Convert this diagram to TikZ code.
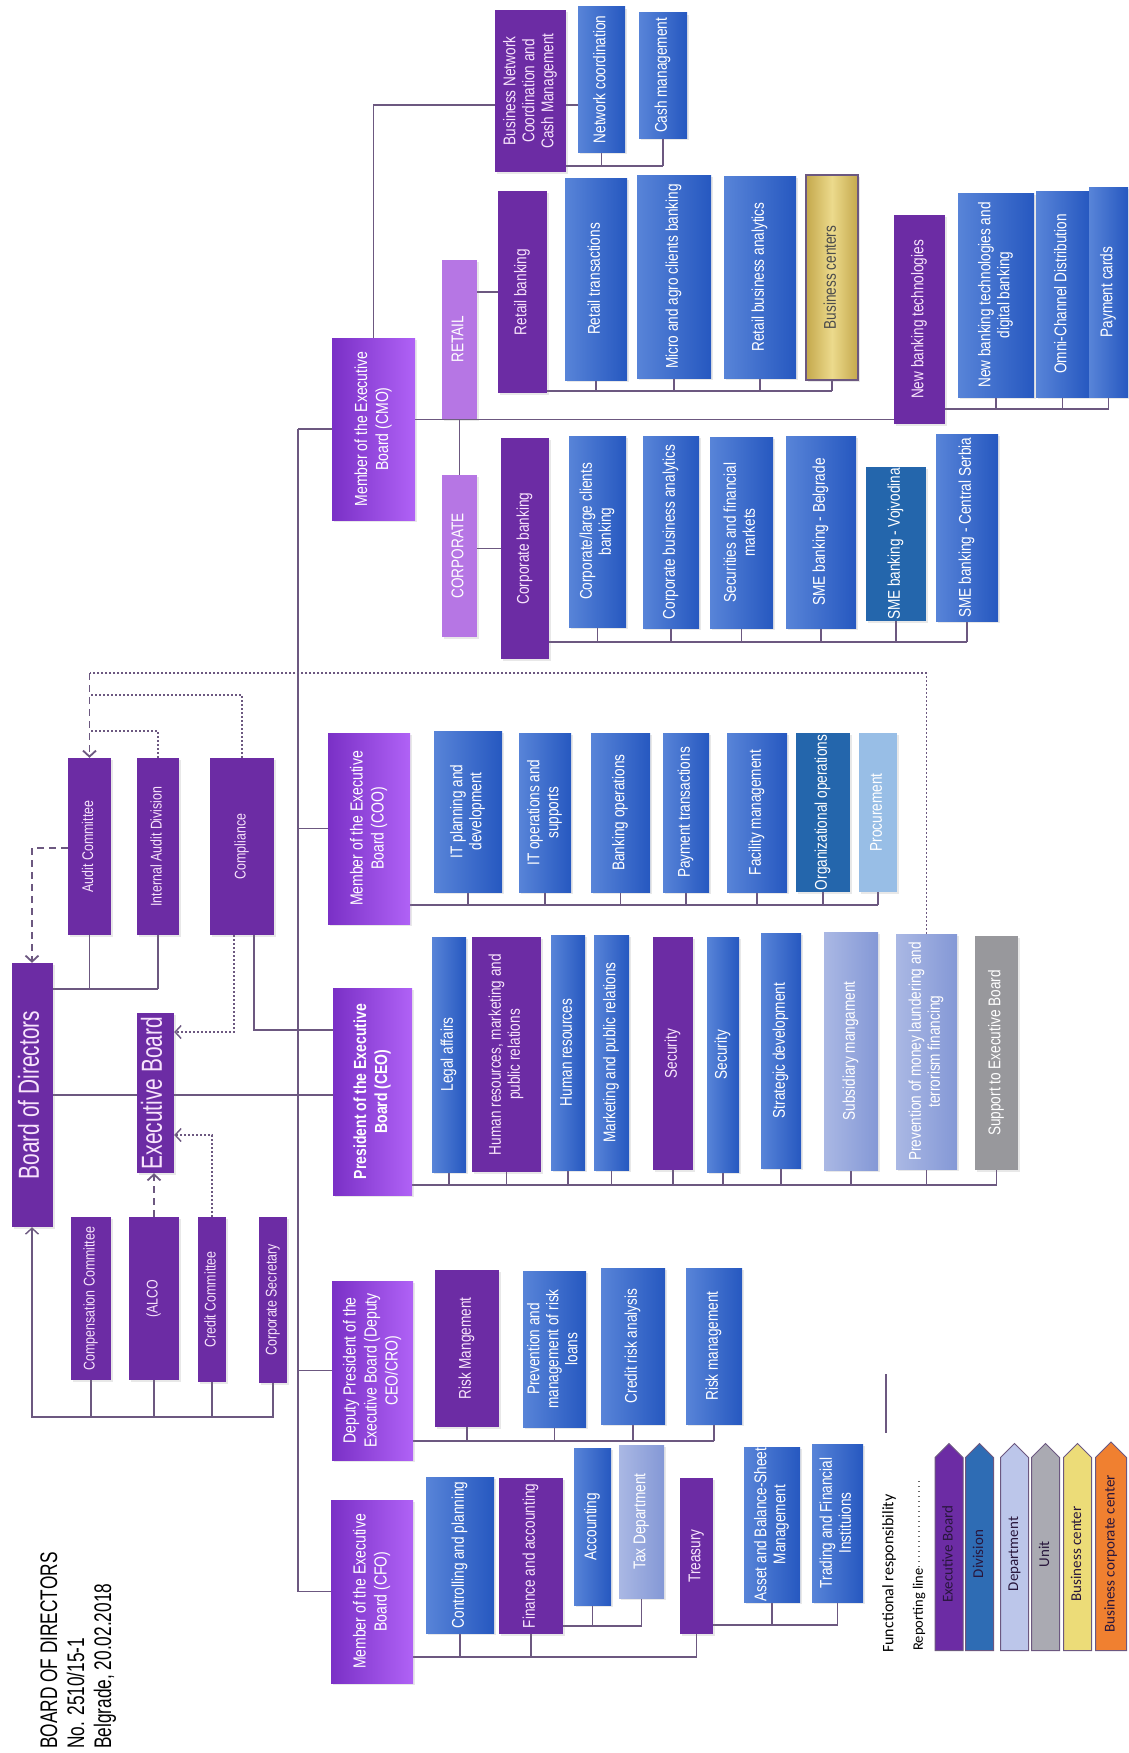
\documentclass[tikz,border=0pt]{standalone}
\usepackage{fontspec}
\setmainfont{Liberation Sans}[FakeStretch=0.8]
\newfontfamily\titlefont{Liberation Sans}[FakeStretch=0.72]
\newfontfamily\legendfont{Carlito}
\usetikzlibrary{arrows.meta,shapes.symbols,backgrounds,shadows}

\definecolor{boardpurple}{RGB}{108,44,164}
\definecolor{boardtext}{RGB}{248,228,252}
\definecolor{memberdark}{RGB}{122,48,198}
\definecolor{memberlight}{RGB}{176,98,246}
\definecolor{segpurple}{RGB}{182,118,228}
\definecolor{divlight}{RGB}{88,132,216}
\definecolor{divdark}{RGB}{38,88,192}
\definecolor{orgblue}{RGB}{36,102,172}
\definecolor{procblue}{RGB}{152,190,230}
\definecolor{deptlight}{RGB}{170,184,228}
\definecolor{deptdark}{RGB}{132,152,214}
\definecolor{unitgray}{RGB}{152,152,156}
\definecolor{goldlight}{RGB}{236,218,140}
\definecolor{golddark}{RGB}{196,168,76}
\definecolor{linecol}{RGB}{108,88,128}
\definecolor{legdiv}{RGB}{46,108,180}
\definecolor{legdept}{RGB}{188,198,234}
\definecolor{legunit}{RGB}{170,170,178}
\definecolor{legbc}{RGB}{236,220,120}
\definecolor{legbcc}{RGB}{240,128,48}
\definecolor{legtext}{RGB}{40,22,60}

\newcommand{\vtext}[1]{\rotatebox{90}{\begin{tabular}{@{}c@{}}#1\end{tabular}}}

\begin{document}
\begin{tikzpicture}[x=1pt, y=-1pt, >={Straight Barb[length=6pt,width=13pt]},
    box/.style={inner sep=0pt, font=\fontsize{17}{19}\selectfont, drop shadow={shadow xshift=2pt, shadow yshift=-2pt, opacity=0.18}},
    titlebox/.style={box, fill=boardpurple, text=boardtext, font=\titlefont\fontsize{29}{32}\selectfont},
    boardbox/.style={box, fill=boardpurple, text=boardtext},
    comm/.style={font=\fontsize{15.5}{18}\selectfont},
    memberbox/.style={box, left color=memberdark, right color=memberlight, text=white, font=\fontsize{17.5}{21}\selectfont},
    segbox/.style={box, fill=segpurple, text=white},
    divbox/.style={box, left color=divlight, right color=divdark, text=white},
    orgbox/.style={box, fill=orgblue, text=white},
    procbox/.style={box, fill=procblue, text=white},
    deptbox/.style={box, left color=deptlight, right color=deptdark, text=white},
    unitbox/.style={box, fill=unitgray, text=white},
    bcbox/.style={box, left color=golddark, right color=golddark, middle color=goldlight, draw=linecol, line width=1.5pt, text=black!70},
    legarrow/.style={shape=signal, signal to=north, signal from=nowhere, signal pointer angle=90, draw=linecol, line width=1pt, inner sep=0pt, text=legtext, font=\legendfont\fontsize{15}{18}\selectfont},
    conn/.style={draw=linecol, line width=1.4pt},
    dotconn/.style={conn, dash pattern=on 2pt off 2pt},
    dashconn/.style={conn, line width=1.8pt, dash pattern=on 7pt off 5pt}]

  \useasboundingbox (0,0) rectangle (1128,1753);

  % header
  \node[anchor=south west, inner sep=0pt, font=\titlefont\fontsize{24}{27}\selectfont] (hdr) at (38,1749)
    {\rotatebox{90}{\begin{tabular}{@{}l@{}}BOARD OF DIRECTORS\\No. 2510/15-1\\Belgrade, 20.02.2018\end{tabular}}};

  % board and committees
  \node[titlebox, minimum width=41, minimum height=264] (bod) at (32.5,1095) {\vtext{Board of Directors}};
  \node[titlebox, minimum width=37, minimum height=160] (exb) at (155.5,1093) {\vtext{Executive Board}};
  \node[boardbox, comm, minimum width=43, minimum height=177] (audit) at (89.5,846.5) {\vtext{Audit Committee}};
  \node[boardbox, comm, minimum width=42, minimum height=177] (intaudit) at (158,846.5) {\vtext{Internal Audit Division}};
  \node[boardbox, comm, minimum width=64, minimum height=177] (compl) at (242,846.5) {\vtext{Compliance}};
  \node[boardbox, comm, minimum width=40, minimum height=163] (compens) at (91,1298.5) {\vtext{Compensation Committee}};
  \node[boardbox, comm, minimum width=50, minimum height=163] (alco) at (154,1298.5) {\vtext{(ALCO}};
  \node[boardbox, comm, minimum width=28, minimum height=165] (credit) at (212,1299.5) {\vtext{Credit Committee}};
  \node[boardbox, comm, minimum width=28, minimum height=166] (corpsec) at (273,1300) {\vtext{Corporate Secretary}};

  % members of the executive board
  \node[memberbox, minimum width=83, minimum height=182] (cmo) at (373.5,429) {\vtext{Member of the Executive\\Board (CMO)}};
  \node[memberbox, minimum width=82, minimum height=191] (coo) at (369,828.5) {\vtext{Member of the Executive\\Board (COO)}};
  \node[memberbox, minimum width=79, minimum height=207] (ceo) at (372.5,1091.5) {\vtext{\bfseries President of the Executive\\\bfseries Board (CEO)}};
  \node[memberbox, minimum width=81, minimum height=179] (dep) at (372.5,1370.5) {\vtext{Deputy President of the\\Executive Board (Deputy\\CEO/CRO)}};
  \node[memberbox, minimum width=82, minimum height=183] (cfo) at (372,1591.5) {\vtext{Member of the Executive\\Board (CFO)}};

  % CMO
  \node[boardbox, minimum width=71, minimum height=162] (busnet) at (530.5,91) {\vtext{Business Network\\Coordination and\\Cash Management}};
  \node[divbox, minimum width=47, minimum height=145] (netcoord) at (601.5,79.5) {\vtext{Network coordination}};
  \node[divbox, minimum width=48, minimum height=125] (cashmgmt) at (663,75.5) {\vtext{Cash management}};
  \node[segbox, minimum width=35, minimum height=159] (retail) at (459.5,339.5) {\vtext{RETAIL}};
  \node[segbox, minimum width=35, minimum height=162] (corporate) at (459.5,556) {\vtext{CORPORATE}};
  \node[boardbox, minimum width=49, minimum height=202] (retbank) at (522.5,292) {\vtext{Retail banking}};
  \node[divbox, minimum width=62, minimum height=202] (rettrans) at (596,279) {\vtext{Retail transactions}};
  \node[divbox, minimum width=74, minimum height=203] (micro) at (674,276.5) {\vtext{Micro and agro clients banking}};
  \node[divbox, minimum width=72, minimum height=202] (retba) at (760,277) {\vtext{Retail business analytics}};
  \node[bcbox, minimum width=52, minimum height=205] (buscent) at (832,277.5) {\vtext{Business centers}};
  \node[boardbox, minimum width=51, minimum height=209] (newtech) at (919.5,319.5) {\vtext{New banking technologies}};
  \node[divbox, minimum width=76, minimum height=204] (newdig) at (996,295) {\vtext{New banking technologies and\\digital banking}};
  \node[divbox, minimum width=53, minimum height=206] (omni) at (1062.5,294) {\vtext{Omni-Channel Distribution}};
  \node[divbox, minimum width=39, minimum height=210] (paycards) at (1108.5,292) {\vtext{Payment cards}};
  \node[boardbox, minimum width=48, minimum height=221] (corpbank) at (525,548.5) {\vtext{Corporate banking}};
  \node[divbox, minimum width=57, minimum height=191] (corplarge) at (597.5,531.5) {\vtext{Corporate/large clients\\banking}};
  \node[divbox, minimum width=56, minimum height=192] (corpba) at (671,532) {\vtext{Corporate business analytics}};
  \node[divbox, minimum width=63, minimum height=191] (secur) at (741.5,532.5) {\vtext{Securities and financial\\markets}};
  \node[divbox, minimum width=70, minimum height=192] (smebg) at (821,532) {\vtext{SME banking - Belgrade}};
  \node[orgbox, minimum width=60, minimum height=154] (smevoj) at (896,544) {\vtext{SME banking - Vojvodina}};
  \node[divbox, minimum width=62, minimum height=187] (smecs) at (967,527.5) {\vtext{SME banking - Central Serbia}};

  % COO
  \node[divbox, minimum width=68, minimum height=161] (itplan) at (468,811.5) {\vtext{IT planning and\\development}};
  \node[divbox, minimum width=52, minimum height=159] (itops) at (545,812.5) {\vtext{IT operations and\\supports}};
  \node[divbox, minimum width=59, minimum height=159] (bankops) at (620.5,812.5) {\vtext{Banking operations}};
  \node[divbox, minimum width=46, minimum height=159] (paytrans) at (686,812.5) {\vtext{Payment transactions}};
  \node[divbox, minimum width=60, minimum height=159] (facility) at (757,812.5) {\vtext{Facility management}};
  \node[orgbox, minimum width=54, minimum height=159] (orgops) at (823,812.5) {\vtext{Organizational operations}};
  \node[procbox, minimum width=38, minimum height=159] (procure) at (878,812.5) {\vtext{Procurement}};

  % CEO
  \node[divbox, minimum width=34, minimum height=235] (legal) at (449,1054.5) {\vtext{Legal affairs}};
  \node[boardbox, minimum width=69, minimum height=235] (hrmpr) at (506.5,1054.5) {\vtext{Human resources, marketing and\\public relations}};
  \node[divbox, minimum width=34, minimum height=235] (hres) at (568,1052.5) {\vtext{Human resources}};
  \node[divbox, minimum width=35, minimum height=235] (mpr) at (611.5,1052.5) {\vtext{Marketing and public relations}};
  \node[boardbox, minimum width=40, minimum height=233] (secp) at (673,1053.5) {\vtext{Security}};
  \node[divbox, minimum width=32, minimum height=235] (secb) at (723,1054.5) {\vtext{Security}};
  \node[divbox, minimum width=40, minimum height=235] (strat) at (781,1050.5) {\vtext{Strategic development}};
  \node[deptbox, minimum width=54, minimum height=238] (subsid) at (851,1051) {\vtext{Subsidiary mangament}};
  \node[deptbox, minimum width=61, minimum height=235] (pml) at (926.5,1051.5) {\vtext{Prevention of money laundering and\\terrorism financing}};
  \node[unitbox, minimum width=43, minimum height=234] (support) at (996.5,1053) {\vtext{Support to Executive Board}};

  % deputy CEO/CRO
  \node[boardbox, minimum width=64, minimum height=157] (riskmg) at (467,1348.5) {\vtext{Risk Mangement}};
  \node[divbox, minimum width=63, minimum height=156] (prevrisk) at (554.5,1349) {\vtext{Prevention and\\management of risk\\loans}};
  \node[divbox, minimum width=64, minimum height=156] (creditra) at (633,1346) {\vtext{Credit risk analysis}};
  \node[divbox, minimum width=56, minimum height=156] (riskmb) at (714,1346) {\vtext{Risk management}};

  % CFO
  \node[divbox, minimum width=68, minimum height=156] (ctrl) at (460,1555) {\vtext{Controlling and planning}};
  \node[boardbox, minimum width=64, minimum height=156] (finacc) at (531,1556) {\vtext{Finance and accounting}};
  \node[divbox, minimum width=37, minimum height=157] (acct) at (592.5,1526.5) {\vtext{Accounting}};
  \node[deptbox, minimum width=45, minimum height=153] (tax) at (641.5,1521.5) {\vtext{Tax Department}};
  \node[boardbox, minimum width=33, minimum height=156] (treas) at (696.5,1556) {\vtext{Treasury}};
  \node[divbox, minimum width=56, minimum height=155] (asset) at (772,1524.5) {\vtext{Asset and Balance-Sheet\\Management}};
  \node[divbox, minimum width=51, minimum height=158] (trading) at (837.5,1523) {\vtext{Trading and Financial\\Instituions}};

  % legend
  \node[anchor=south, inner sep=0pt, font=\legendfont\fontsize{16}{19}\selectfont] (functext) at (889,1653) {\rotatebox{90}{Functional responsibility}};
  \node[anchor=south, inner sep=0pt, font=\legendfont\fontsize{14.5}{17}\selectfont] (repline) at (919,1651) {\rotatebox{90}{Reporting line}};
  \node[legarrow, fill=boardpurple, minimum width=28, minimum height=202] (legeb) at (949,1554) {\vtext{Executive Board}};
  \node[legarrow, fill=legdiv, minimum width=28, minimum height=202] (legdiv) at (979.5,1554) {\vtext{Division}};
  \node[legarrow, fill=legdept, minimum width=28, minimum height=202] (legdept) at (1014.5,1554) {\vtext{Department}};
  \node[legarrow, fill=legunit, minimum width=28, minimum height=202] (legunit) at (1045.5,1554) {\vtext{Unit}};
  \node[legarrow, fill=legbc, minimum width=28, minimum height=202] (legbc) at (1077.5,1554) {\vtext{Business center}};
  \node[legarrow, fill=legbcc, minimum width=31, minimum height=202] (legbcc) at (1111,1554) {\vtext{Business corporate center}};
  \coordinate (fr1) at (886,1374);
  \coordinate (fr2) at (886,1433);
  \coordinate (repend) at (919,1480);
  \draw[conn] (fr1) -- (fr2);
  \draw[draw=black!60, line width=1.6pt, dash pattern=on 1.6pt off 3.4pt] ([yshift=-4pt]repline.north) -- (repline.north |- repend);

  \begin{pgfonlayer}{background}
    \coordinate (bodbus) at (0,989);
    \coordinate (complsolid) at (254,1030);
    \coordinate (compldot) at (234,1032);
    \coordinate (creddot) at (0,1135);
    \coordinate (combus) at (32,1417);
    \coordinate (auddash) at (32,848);
    \coordinate (topdot) at (0,673);
    \coordinate (compltop) at (0,695);
    \coordinate (iatop) at (0,731);
    \coordinate (trunk) at (298,0);
    \coordinate (bnlink) at (0,105);
    \coordinate (bnbus) at (0,166);
    \coordinate (rbus) at (0,391);
    \coordinate (nbus) at (0,409);
    \coordinate (cbus) at (0,642);
    \coordinate (obus) at (0,905);
    \coordinate (ebus) at (0,1185);
    \coordinate (dbus) at (0,1441);
    \coordinate (fbus) at (0,1657);
    \coordinate (fabus) at (0,1626);
    \coordinate (tbus) at (0,1625);

    % board of directors
    \draw[conn] (bod.east |- bodbus) -- (intaudit.south |- bodbus);
    \draw[conn] (bod.east) -- (bod.east -| ceo.west);
    \draw[conn] (compl.south -| complsolid) |- (ceo.west |- complsolid);
    \draw[conn, ->] (corpsec.south) |- (combus) -- (combus |- bod.south);
    \path[conn]
      (audit.south) edge (audit.south |- bodbus)
      (intaudit.south) edge (intaudit.south |- bodbus)
      (compens.south) edge (compens.south |- combus)
      (alco.south) edge (alco.south |- combus)
      (credit.south) edge (credit.south |- combus);

    % reporting lines
    \draw[dashconn, ->] (audit.west |- auddash) -- (auddash) -- (auddash |- bod.north);
    \draw[dotconn] (pml.north) |- (audit.north |- topdot);
    \draw[dotconn] (compl.north) |- (audit.north |- compltop);
    \draw[dotconn] (intaudit.north) |- (audit.north |- iatop);
    \draw[dashconn, ->] (audit.north |- topdot) -- (audit.north);
    \draw[dotconn, ->] (compl.south -| compldot) |- (exb.east |- compldot);
    \draw[dotconn, ->] (credit.north) |- (exb.east |- creddot);
    \draw[dashconn, ->] (alco.north) -- (alco.north |- exb.south);

    % trunk
    \draw[conn] (trunk |- cmo.west) -- (trunk |- cfo.west);
    \path[conn]
      (trunk |- cmo.west) edge (cmo.west)
      (trunk |- coo.west) edge (coo.west)
      (trunk |- dep.west) edge (dep.west)
      (trunk |- cfo.west) edge (cfo.west);

    % CMO
    \draw[conn] (cmo.north) |- (netcoord.west |- bnlink);
    \draw[conn] (busnet.east |- bnbus) -- (cashmgmt.south |- bnbus);
    \draw[conn] (cmo.east |- retail.south) -- (newtech.west |- retail.south);
    \draw[conn] (retail.south) -- (corporate.north);
    \draw[conn] (retail.east |- retbank.west) -- (retbank.west);
    \draw[conn] (corporate.east |- corpbank.west) -- (corpbank.west);
    \draw[conn] (retbank.east |- rbus) -- (buscent.south |- rbus);
    \draw[conn] (newtech.east |- nbus) -- (paycards.south |- nbus);
    \draw[conn] (corpbank.east |- cbus) -- (smecs.south |- cbus);
    \path[conn]
      (netcoord.south) edge (netcoord.south |- bnbus)
      (cashmgmt.south) edge (cashmgmt.south |- bnbus)
      (rettrans.south) edge (rettrans.south |- rbus)
      (micro.south) edge (micro.south |- rbus)
      (retba.south) edge (retba.south |- rbus)
      (buscent.south) edge (buscent.south |- rbus)
      (newdig.south) edge (newdig.south |- nbus)
      (omni.south) edge (omni.south |- nbus)
      (paycards.south) edge (paycards.south |- nbus)
      (corplarge.south) edge (corplarge.south |- cbus)
      (corpba.south) edge (corpba.south |- cbus)
      (secur.south) edge (secur.south |- cbus)
      (smebg.south) edge (smebg.south |- cbus)
      (smevoj.south) edge (smevoj.south |- cbus)
      (smecs.south) edge (smecs.south |- cbus);

    % COO
    \draw[conn] (coo.east |- obus) -- (procure.south |- obus);
    \path[conn]
      (itplan.south) edge (itplan.south |- obus)
      (itops.south) edge (itops.south |- obus)
      (bankops.south) edge (bankops.south |- obus)
      (paytrans.south) edge (paytrans.south |- obus)
      (facility.south) edge (facility.south |- obus)
      (orgops.south) edge (orgops.south |- obus)
      (procure.south) edge (procure.south |- obus);

    % CEO
    \draw[conn] (ceo.east |- ebus) -- (support.south |- ebus);
    \path[conn]
      (legal.south) edge (legal.south |- ebus)
      (hrmpr.south) edge (hrmpr.south |- ebus)
      (hres.south) edge (hres.south |- ebus)
      (mpr.south) edge (mpr.south |- ebus)
      (secp.south) edge (secp.south |- ebus)
      (secb.south) edge (secb.south |- ebus)
      (strat.south) edge (strat.south |- ebus)
      (subsid.south) edge (subsid.south |- ebus)
      (pml.south) edge (pml.south |- ebus)
      (support.south) edge (support.south |- ebus);

    % deputy CEO/CRO
    \draw[conn] (dep.east |- dbus) -- (riskmb.south |- dbus);
    \path[conn]
      (riskmg.south) edge (riskmg.south |- dbus)
      (prevrisk.south) edge (prevrisk.south |- dbus)
      (creditra.south) edge (creditra.south |- dbus)
      (riskmb.south) edge (riskmb.south |- dbus);

    % CFO
    \draw[conn] (cfo.east |- fbus) -- (treas.south |- fbus);
    \draw[conn] (finacc.east |- fabus) -- (tax.south |- fabus);
    \draw[conn] (treas.east |- tbus) -- (trading.south |- tbus);
    \path[conn]
      (ctrl.south) edge (ctrl.south |- fbus)
      (finacc.south) edge (finacc.south |- fbus)
      (treas.south) edge (treas.south |- fbus)
      (acct.south) edge (acct.south |- fabus)
      (tax.south) edge (tax.south |- fabus)
      (asset.south) edge (asset.south |- tbus)
      (trading.south) edge (trading.south |- tbus);
  \end{pgfonlayer}
\end{tikzpicture}
\end{document}
